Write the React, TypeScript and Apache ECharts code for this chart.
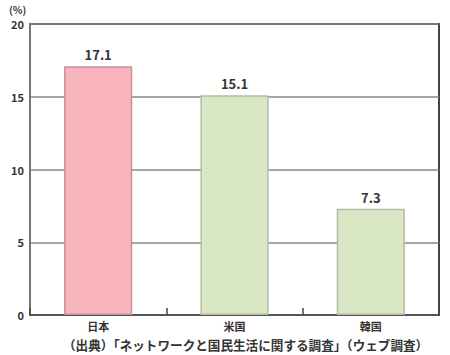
import React, { useEffect, useRef } from "react";
import * as echarts from "echarts";

const categories = ["日本", "米国", "韓国"];
const values = [17.1, 15.1, 7.3];
const barColors = ["#f8b5bd", "#d9e7c5", "#d9e7c5"];
const barBorders = ["#c99198", "#b3bca6", "#b3bca6"];
const yTicks = [0, 5, 10, 15, 20];
const unitLabel = "(%)";
const sourceText = "（出典）「ネットワークと国民生活に関する調査」（ウェブ調査）";

const FONT = "'Noto Sans CJK JP', 'Noto Sans', sans-serif";

export default function App() {
  const ref = useRef<HTMLDivElement>(null);
  useEffect(() => {
    if (!ref.current) return;
    const chart = echarts.init(ref.current, undefined, { renderer: "svg" });
    chart.setOption({
      animation: false,
      backgroundColor: "#ffffff",
      grid: {
        left: 30,
        right: 11,
        top: 24,
        bottom: 40,
        show: true,
        borderColor: "#444",
        borderWidth: 2,
        containLabel: false,
      },
      graphic: [
        {
          type: "text",
          left: 9,
          top: 4,
          style: { text: unitLabel, font: `bold 10px ${FONT}`, fill: "#333" },
        },
        {
          type: "text",
          left: 63,
          top: 338,
          style: { text: sourceText, font: `bold 12.6px ${FONT}`, fill: "#333" },
        },
      ],
      xAxis: {
        type: "category",
        data: categories,
        axisLine: { lineStyle: { color: "#555", width: 2 } },
        axisTick: { show: true, inside: true, length: 7, lineStyle: { color: "#444", width: 1.5 } },
        axisLabel: { color: "#333", fontFamily: FONT, fontWeight: "bold", fontSize: 11, margin: 5 },
      },
      yAxis: {
        type: "value",
        min: yTicks[0],
        max: yTicks[yTicks.length - 1],
        interval: 5,
        axisLine: { show: true, lineStyle: { color: "#777", width: 2 } },
        axisTick: { show: false },
        axisLabel: { color: "#333", fontFamily: FONT, fontWeight: "bold", fontSize: 11, margin: 6 },
        splitLine: { show: true, lineStyle: { color: "#888", width: 1.5 } },
      },
      series: [
        {
          type: "bar",
          barWidth: "50%",
          data: values.map((v, i) => ({
            value: v,
            itemStyle: { color: barColors[i], borderColor: barBorders[i], borderWidth: 1.5 },
          })),
          label: {
            show: true,
            position: "top",
            distance: 5,
            color: "#333",
            fontFamily: FONT,
            fontWeight: "bold",
            fontSize: 13,
            formatter: (p: any) => p.value.toFixed(1),
          },
        },
      ],
    });
    return () => chart.dispose();
  }, []);
  return (
    <div
      ref={ref}
      style={{ position: "fixed", left: 0, top: 0, width: 450, height: 355 }}
    />
  );
}
